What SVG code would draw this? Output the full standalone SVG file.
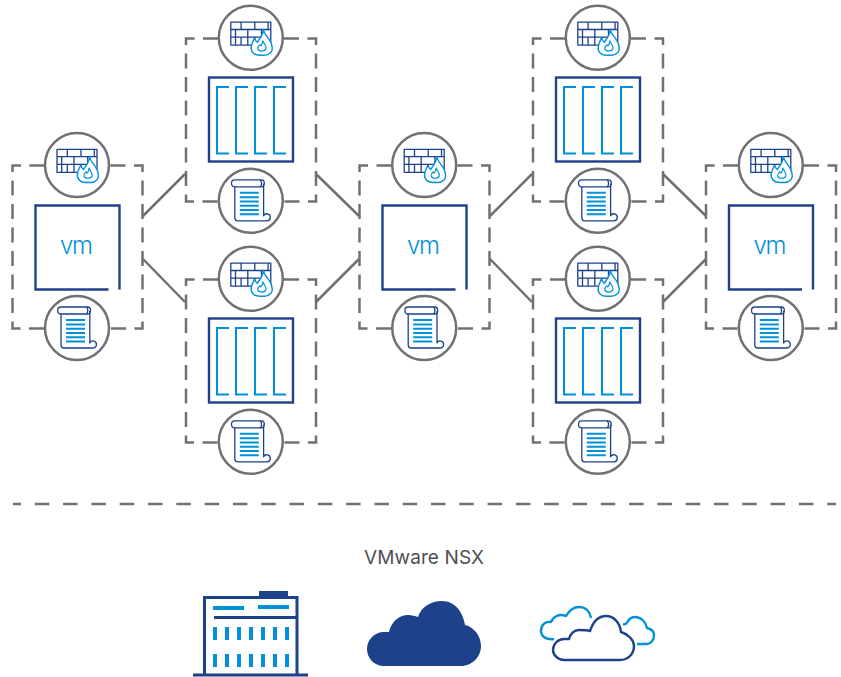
<svg xmlns="http://www.w3.org/2000/svg" width="841" height="677" viewBox="0 0 841 677">
<style>
.dash{fill:none;stroke:#717074;stroke-width:2.5;stroke-dasharray:15 8.500}
.rule{fill:none;stroke:#717074;stroke-width:2.5;stroke-dasharray:14.500 13.800;stroke-dashoffset:6.500}
.link{fill:none;stroke:#717074;stroke-width:2.5}
.ring{fill:#fff;stroke:#717074;stroke-width:2.5}
.navy{fill:none;stroke:#1d428a;stroke-width:1.3;stroke-linejoin:round}
.box{fill:#fff;stroke:#1d428a;stroke-width:2.4}
.bl{fill:none;stroke:#0091da;stroke-width:2}
.vm{font:300 24px Inter,"Liberation Sans",sans-serif;fill:#0091da;text-anchor:middle}
.cap{font:19px Inter,"Liberation Sans",sans-serif;fill:#4f4f52;text-anchor:middle}
</style>
<defs>
<path id="frame" class="dash" d="M-33 0H-65V163H-33M33 0H65V163H33"/>
<g id="fw">
<circle class="ring" r="32"/>
<path class="navy" d="M-20-15.700H20V7.300H-20ZM-20-8.300H20M-20-.7H10M-20 7.300H3M-9.700-15.700V-8.300M4-15.700V-8.300M17.300-15.700V-8.300M-15.300-8.300V-.7M-3-8.300V-.7M10.700-8.300V-.7M-9.700-.7V7.300M4-.7V3M-15.300-.7V7.300M-3-.7V7.300M20-15.700V2"/>
<path fill="#fff" stroke="#0091da" stroke-width="1.400" stroke-linejoin="round" d="M12.500-8.500C13.500-2 20 .5 21 8C23 14 18 17.500 13.500 17.500H9C3.500 17.500-.5 14 .5 9C.5 6 2.500 3.500 3.500 .5C4.500 2.500 5.500 3.500 6.500 4.500C9 1 12.500-3 12.500-8.500Z"/>
<path fill="none" stroke="#0091da" stroke-width="1.200" stroke-linejoin="round" d="M12 3C13 6 16 8 15 11C14 14 8 14 7 11C6.500 9 8 8 9 7L10 8C11 7 12 5 12 3Z"/>
</g>
<g id="scroll">
<circle class="ring" r="32"/>
<path class="navy" d="M-16-14V17Q-16 20-13 20H16A3.500 3.500 0 1 0 12.800 15V-17"/>
<path class="navy" d="M-16-21H10.500C12.500-21 13.500-19.500 13.500-17.500C13.500-15.500 12.500-14 10.500-14H-16C-18-14-19.300-15.500-19.300-17.500C-19.300-19.500-18-21-16-21Z"/>
<path class="navy" d="M9.500-21C11-19 11-16 9.500-14"/>
<path stroke="#0091da" stroke-width="2" d="M-11-8H8M-11-3.600H8M-11 .8H8M-11 5H8M-11 9.200H8M-11 13.500H8"/>
</g>
<g id="stack">
<rect class="box" width="84" height="84"/>
<path class="bl" d="M20 9.500H8V76H20M39 9.500H27V76H39M58 9.500H46V76H58M77 9.500H65V76H77"/>
</g>
<g id="vmbox">
<path d="M73 84H0V0H84V84" fill="none" stroke="#1d428a" stroke-width="2.400"/>
<text class="vm" x="41" y="48" textLength="33" lengthAdjust="spacing">vm</text>
</g>
</defs>

<g id="connectors">
<use href="#frame" x="77.500" y="165.500"/>
<use href="#frame" x="251" y="38.500"/>
<use href="#frame" x="251" y="279.500"/>
<use href="#frame" x="424.500" y="165.500"/>
<use href="#frame" x="598" y="38.500"/>
<use href="#frame" x="598" y="279.500"/>
<use href="#frame" x="771" y="165.500"/>
<path class="link" d="M143 216L185 174M143 259L185 302M316 174L359 216M316 302L359 259M490 216L532 174M490 259L532 302M663 174L706 216M663 302L706 259"/>
<path class="rule" d="M13 504H836"/>
</g>

<g id="node-a"><use href="#fw" x="77" y="165"/><use href="#vmbox" x="35.500" y="205.500"/><use href="#scroll" x="77" y="328"/></g>
<g id="node-b"><use href="#fw" x="250.800" y="37.800"/><use href="#stack" x="209" y="77.500"/><use href="#scroll" x="250.800" y="200.800"/></g>
<g id="node-c"><use href="#fw" x="250.800" y="278.800"/><use href="#stack" x="209" y="318.500"/><use href="#scroll" x="250.800" y="441.800"/></g>
<g id="node-d"><use href="#fw" x="424.200" y="165"/><use href="#vmbox" x="382.500" y="205.500"/><use href="#scroll" x="424.200" y="328"/></g>
<g id="node-e"><use href="#fw" x="597.800" y="37.800"/><use href="#stack" x="556" y="77.500"/><use href="#scroll" x="597.800" y="200.800"/></g>
<g id="node-f"><use href="#fw" x="597.800" y="278.800"/><use href="#stack" x="556" y="318.500"/><use href="#scroll" x="597.800" y="441.800"/></g>
<g id="node-g"><use href="#fw" x="770.800" y="165"/><use href="#vmbox" x="729" y="205.500"/><use href="#scroll" x="770.800" y="328"/></g>

<text id="label-nsx" class="cap" x="424" y="564" textLength="120" lengthAdjust="spacing">VMware NSX</text>

<g id="datacenter">
<path d="M193 675H308M204.500 675V597.500H297V675M214 617.500H297" fill="none" stroke="#1d428a" stroke-width="3"/>
<rect x="259" y="591" width="29" height="6" fill="#1d428a"/>
<path stroke="#0091da" stroke-width="4" d="M213 608H244M258 607H289"/>
<path stroke="#0091da" stroke-width="4" stroke-dasharray="13 14" d="M215 627V667M227 627V667M239 627V667M251 627V667M263 627V667M275 627V667M287 627V667"/>
</g>
<g id="cloud-solid">
<path fill="#1d428a" d="M418 617C421 607 431 601 442 601C455 601 463 612 465 625C474 627 481 636 481 646C481 657 472 666 461 666H384C374 666 367 658 367 649C367 640 374 632 384 632H389C391 622 399 615 408 615C412 615 415 616 418 617Z"/>
</g>
<g id="cloud-outline">
<path fill="none" stroke="#0091da" stroke-width="2.400" stroke-linejoin="round" d="M554 639C547 640 541 637 541 631C541 625 545 621 551 622C553 617 559 613 566 616C569 611 573 607 579 607C586 607 590 612 591 618M623 624C625 625 627 623 628 621C630 618 632 617 635 617C641 617 646 622 647 628C651 629 654 631 654 635C654 640 651 644 647 644H637"/>
<path fill="none" stroke="#1d428a" stroke-width="2.400" stroke-linejoin="round" d="M564 660C558 660 553 655 553 650C553 644 558 639 564 639H569C570 634 574 630 579 630C583 630 587 630 590 631C593 622 598 616 606 616C614 616 620 623 621 632C628 634 634 640 634 646C634 654 628 660 620 660Z"/>
</g>
</svg>
